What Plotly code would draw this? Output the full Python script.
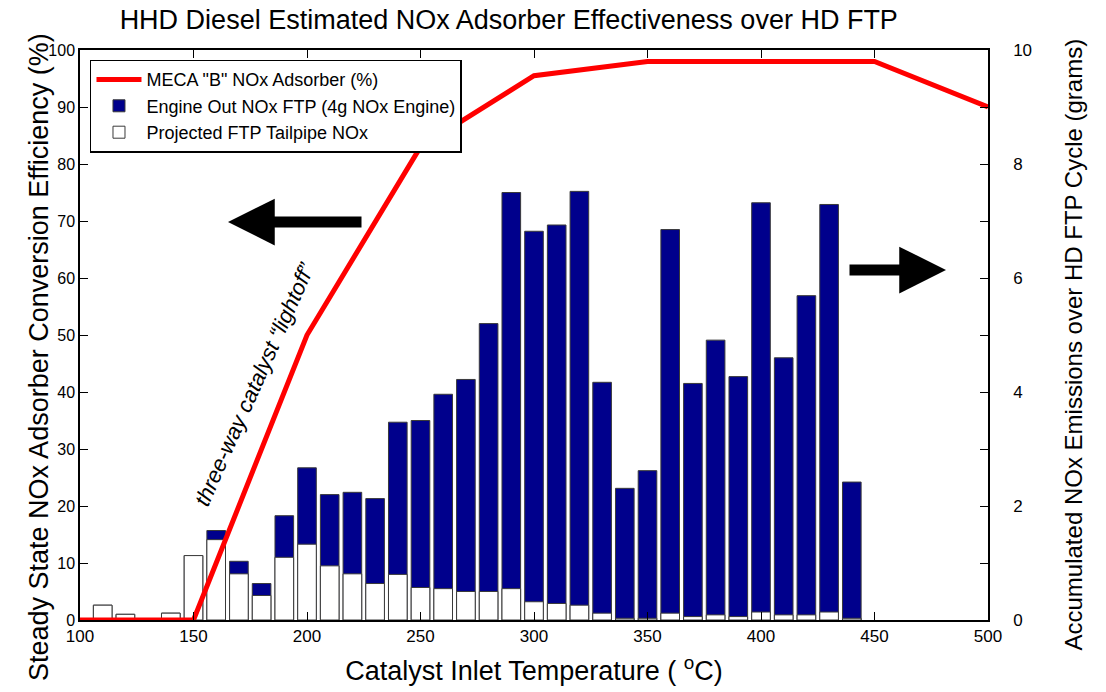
import plotly.graph_objects as go

# ---- data ----
temps = [110, 120, 130, 140, 150, 160, 170, 180, 190, 200, 210, 220, 230, 240, 250, 260,
         270, 280, 290, 300, 310, 320, 330, 340, 350, 360, 370, 380, 390, 400, 410, 420,
         430, 440]
engine_out_g = [0.26, 0.10, 0.0, 0.12, 1.13, 1.57, 1.03, 0.64, 1.83, 2.67, 2.20, 2.24,
                2.13, 3.47, 3.50, 3.96, 4.22, 5.20, 7.50, 6.82, 6.93, 7.52, 4.17, 2.31,
                2.62, 6.85, 4.15, 4.91, 4.27, 7.32, 4.60, 5.69, 7.29, 2.42]
tailpipe_g = [0.26, 0.10, 0.0, 0.12, 1.13, 1.41, 0.81, 0.43, 1.10, 1.33, 0.95, 0.81,
              0.64, 0.80, 0.57, 0.55, 0.50, 0.50, 0.55, 0.32, 0.29, 0.26, 0.12, 0.03,
              0.03, 0.12, 0.06, 0.09, 0.06, 0.14, 0.09, 0.09, 0.14, 0.03]
eff_temp = [100, 150, 200, 250, 300, 350, 450, 500]
eff_pct = [0, 0, 50, 83, 95.5, 98, 98, 90]

NAVY = "rgb(0,0,140)"
FONT = "Liberation Sans, Arial, sans-serif"

fig = go.Figure()
fig.add_trace(go.Bar(x=temps, y=engine_out_g, width=8.2, name="Engine Out NOx FTP (4g NOx Engine)",
                     marker=dict(color=NAVY, line=dict(color="#3a3a3a", width=1)),
                     yaxis="y", legendrank=2))
fig.add_trace(go.Bar(x=temps, y=tailpipe_g, width=8.2, name="Projected FTP Tailpipe NOx",
                     marker=dict(color="white", line=dict(color="#3a3a3a", width=1)),
                     yaxis="y", legendrank=3))
fig.add_trace(go.Scatter(x=eff_temp, y=eff_pct, mode="lines", name='MECA "B" NOx Adsorber (%)',
                         line=dict(color="#ff0000", width=5), yaxis="y2", legendrank=1))

fig.update_layout(
    width=1106, height=692,
    margin=dict(l=80, r=118, t=50, b=72),
    paper_bgcolor="white", plot_bgcolor="white",
    barmode="overlay",
    font=dict(family=FONT, color="black"),
    title=dict(text="HHD Diesel Estimated NOx Adsorber Effectiveness over HD FTP",
               x=0.46, xanchor="center", y=0.972, yanchor="middle",
               font=dict(size=27, family=FONT)),
    showlegend=True,
    legend=dict(x=0.011, y=0.983, xanchor="left", yanchor="top",
                bgcolor="white", bordercolor="black", borderwidth=1.5,
                font=dict(size=18, family=FONT), traceorder="normal",
                tracegroupgap=0, itemwidth=45),
    xaxis=dict(range=[100, 500], tickvals=[100, 150, 200, 250, 300, 350, 400, 450, 500],
               ticks="inside", ticklen=8, tickcolor="black", showline=True, linecolor="black",
               linewidth=1.5, mirror="ticks", showgrid=False, zeroline=False,
               tickfont=dict(size=17, family=FONT),
               title=dict(text="Catalyst Inlet Temperature ( <sup>o</sup>C)",
                          font=dict(size=27, family=FONT), standoff=16)),
    yaxis=dict(range=[0, 10], side="right",
               tickvals=list(range(0, 11)),
               ticktext=["0", "", "2", "", "4", "", "6", "", "8", "", "10"],
               ticks="inside", ticklen=8, tickcolor="black", showline=True, linecolor="black",
               linewidth=1.5, showgrid=False, zeroline=False,
               tickfont=dict(size=17, family=FONT), ticklabelstandoff=20),
    yaxis2=dict(range=[0, 100], side="left", overlaying="y", dtick=10,
                ticks="inside", ticklen=8, tickcolor="black", showline=True, linecolor="black",
                linewidth=1.5, showgrid=False, zeroline=False,
                tickfont=dict(size=16, family=FONT)),
)

# axis titles as annotations for exact placement (pixel positions -> paper coords)
PL, PR, PT, PB = 80, 988, 50, 620
def px(x):
    return (x - PL) / (PR - PL)
def py(y):
    return (PB - y) / (PB - PT)

fig.add_annotation(x=px(22), y=py(357), xref="paper", yref="paper", showarrow=False,
                   text="Steady State NOx Adsorber Conversion Efficiency (%)", textangle=-90,
                   font=dict(size=27, family=FONT))
fig.add_annotation(x=px(1088), y=py(345), xref="paper", yref="paper", showarrow=False,
                   text="Accumulated NOx Emissions over HD FTP Cycle (grams)", textangle=-90,
                   font=dict(size=24, family=FONT))

fig.add_annotation(x=177, y=41.5, xref="x", yref="y2",
                   text="<i>three-way catalyst “lightoff”</i>", showarrow=False,
                   textangle=-66, font=dict(size=22, family=FONT, color="black"))

# arrows (pointing to respective axes)
fig.add_annotation(x=px(228), y=py(222), xref="paper", yref="paper", ax=135, ay=0,
                   axref="pixel", ayref="pixel", text="", showarrow=True,
                   arrowhead=2, arrowsize=0.85, arrowwidth=11, arrowcolor="black")
fig.add_annotation(x=px(946), y=py(270), xref="paper", yref="paper", ax=-98, ay=0,
                   axref="pixel", ayref="pixel", text="", showarrow=True,
                   arrowhead=2, arrowsize=0.85, arrowwidth=11, arrowcolor="black")

fig.write_html("out.html")
